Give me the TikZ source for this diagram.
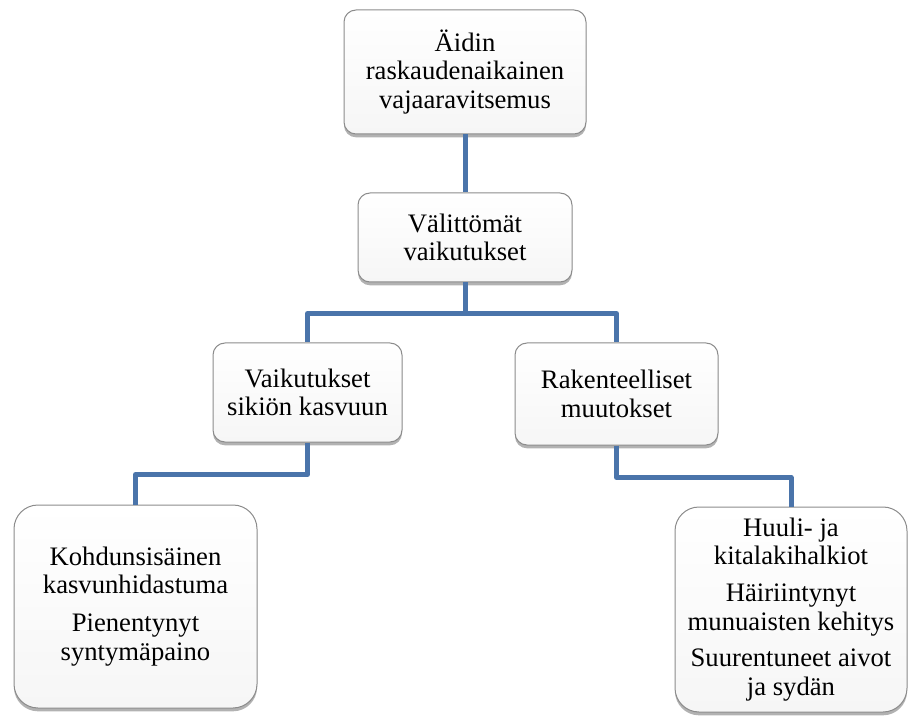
\documentclass[tikz,border=0pt]{standalone}
\usepackage{fontspec}
\setmainfont{Liberation Serif}
\usetikzlibrary{shadows}

\begin{document}
\begin{tikzpicture}[x=0.75pt,y=0.75pt,yscale=-1,xscale=1,
    box/.style={draw={rgb,255:red,140;green,140;blue,140}, line width=0.75pt, rounded corners=9pt,
        top color=white, bottom color={rgb,255:red,246;green,246;blue,246}, align=center, inner sep=2pt,
        font=\fontsize{20pt}{21.5pt}\selectfont,
        drop shadow={shadow xshift=0pt, shadow yshift=-2.5pt, opacity=0.3, fill=black}},
    bigbox/.style={box, rounded corners=18pt},
    link/.style={draw={rgb,255:red,74;green,116;blue,170}, line width=3.75pt, line join=round}]
    \useasboundingbox (0,0) rectangle (910,716);
    % boxes
    \node [box, minimum width=181.5pt, minimum height=93pt] (aidin) at (465,72) {Äidin\\raskaudenaikainen\\vajaaravitsemus};
    \node [box, minimum width=160.5pt, minimum height=66.75pt] (valit) at (465,237.5) {Välittömät\\vaikutukset};
    \node [box, minimum width=141.75pt, minimum height=74.25pt] (kasvu) at (307.5,392.5) {Vaikutukset\\sikiön kasvuun};
    \node [box, minimum width=152.25pt, minimum height=76.5pt] (raken) at (616.5,394) {Rakenteelliset\\muutokset};
    \node [bigbox, minimum width=182.25pt, minimum height=152.25pt] (kohd) at (135.5,606.5) {Kohdunsisäinen\\kasvunhidastuma\\[7pt]Pienentynyt\\syntymäpaino};
    \node [bigbox, minimum width=174pt, minimum height=153.75pt] (huuli) at (791,609.5) {Huuli- ja\\kitalakihalkiot\\[6pt]Häiriintynyt\\munuaisten kehitys\\[6pt]Suurentuneet aivot\\ja sydän};
    % connectors
    \draw [link] (aidin.south) -- (valit.north);
    \draw [link] (valit.south) -- ++(0,31) -| (kasvu.north);
    \draw [link] (valit.south) -- ++(0,31) -| (raken.north);
    \draw [link] (kasvu.south) -- ++(0,32) -| (kohd.north);
    \draw [link] (raken.south) -- ++(0,32) -| (huuli.north);
\end{tikzpicture}
\end{document}
